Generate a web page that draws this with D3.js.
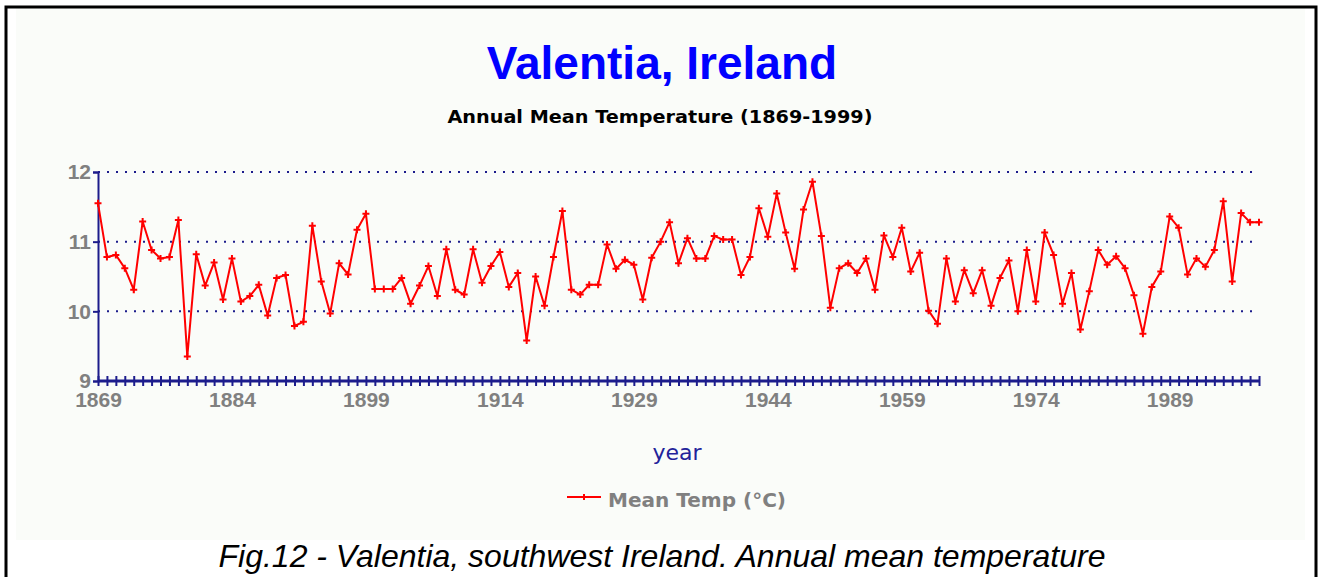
<!DOCTYPE html>
<html>

<head>
    <meta charset="utf-8">
    <script src="https://d3js.org/d3.v7.min.js"></script>
    <style>
        body { margin: 0; background: #ffffff; }
        text { font-family: "Liberation Sans", Arial, sans-serif; }
    </style>

    <script type="text/javascript">
        // anos e temperaturas
        let years = d3.range(1869, 2000);
        let meanTemp = [
            11.55, 10.78, 10.81, 10.62, 10.31, 11.29, 10.88, 10.76, 10.78, 11.31,
            9.35, 10.82, 10.37, 10.70, 10.17, 10.76, 10.14, 10.22, 10.38, 9.94,
            10.48, 10.52, 9.79, 9.85, 11.23, 10.43, 9.97, 10.69, 10.53, 11.17,
            11.40, 10.32, 10.32, 10.32, 10.48, 10.11, 10.37, 10.65, 10.22, 10.89,
            10.31, 10.24, 10.89, 10.41, 10.65, 10.85, 10.35, 10.55, 9.58, 10.50,
            10.08, 10.78, 11.44, 10.31, 10.24, 10.38, 10.38, 10.96, 10.61, 10.74,
            10.67, 10.17, 10.77, 11.00, 11.28, 10.69, 11.05, 10.76, 10.76, 11.08,
            11.03, 11.03, 10.52, 10.78, 11.48, 11.07, 11.69, 11.13, 10.61, 11.46,
            11.86, 11.08, 10.05, 10.62, 10.69, 10.55, 10.76, 10.31, 11.09, 10.78,
            11.20, 10.57, 10.84, 10.01, 9.82, 10.76, 10.14, 10.59, 10.26, 10.59,
            10.08, 10.48, 10.73, 10.00, 10.88, 10.14, 11.13, 10.81, 10.11, 10.55,
            9.74, 10.29, 10.88, 10.67, 10.79, 10.62, 10.23, 9.68, 10.35, 10.57,
            11.36, 11.20, 10.53, 10.76, 10.64, 10.88, 11.58, 10.43, 11.41, 11.28,
            11.28
        ];
        let yearLabels = [1869, 1884, 1899, 1914, 1929, 1944, 1959, 1974, 1989];
        let tempTicks = [9, 10, 11, 12];
        let gridValues = [10, 11, 12];

        function draw() {
            let width = 1318,
                height = 577;

            let navy = "#1c1c8c",
                grey = "#808080";

            let svg = d3.select("body")
                .append("svg")
                .attr("width", width)
                .attr("height", height);

            // fundo e moldura
            svg.append("rect")
                .attr("x", 16).attr("y", 8)
                .attr("width", 1289).attr("height", 532)
                .attr("fill", "#fafcf9");

            svg.append("path")
                .attr("d", "M6,577 V7 H1316 V577")
                .attr("fill", "none")
                .attr("stroke", "black")
                .attr("stroke-width", 3);

            let x = d3.scaleLinear()
                .domain([1869, 1999])
                .range([98, 1259]);

            let y = d3.scaleLinear()
                .domain([9, 12])
                .range([381, 172]);

            // titulos
            svg.append("text")
                .attr("x", 662).attr("y", 79)
                .attr("text-anchor", "middle")
                .attr("font-size", 46)
                .attr("font-weight", "bold")
                .attr("fill", "#0000ff")
                .text("Valentia, Ireland");

            svg.append("text")
                .attr("x", 660).attr("y", 123)
                .attr("text-anchor", "middle")
                .style("font-family", "'DejaVu Sans', sans-serif")
                .attr("font-size", 17)
                .attr("font-weight", "bold")
                .attr("fill", "black")
                .attr("textLength", 425)
                .attr("lengthAdjust", "spacingAndGlyphs")
                .text("Annual Mean Temperature (1869-1999)");

            // linhas de grade pontilhadas
            svg.append("g")
                .selectAll("line")
                .data(gridValues)
                .join("line")
                .attr("x1", x(1869)).attr("x2", 1255)
                .attr("y1", d => y(d)).attr("y2", d => y(d))
                .attr("stroke", navy)
                .attr("stroke-width", 2)
                .attr("stroke-dasharray", "2,7");

            // eixo y
            let yAxis = svg.append("g")
                .attr("transform", "translate(" + x(1869) + ",0)")
                .call(d3.axisLeft(y).tickValues(tempTicks).tickSize(5).tickPadding(2).tickFormat(d3.format("d")));
            yAxis.select(".domain").attr("stroke", navy).attr("stroke-width", 2);
            yAxis.selectAll(".tick line").attr("stroke", navy).attr("stroke-width", 2);
            yAxis.selectAll("text")
                .attr("font-size", 21)
                .attr("font-weight", "bold")
                .attr("fill", grey);

            // marcas de cada ano cruzando o eixo x
            let minor = svg.append("g")
                .attr("transform", "translate(0," + (y(9) - 5) + ")")
                .call(d3.axisBottom(x).tickValues(years).tickSize(10).tickFormat(""));
            minor.select(".domain").remove();
            minor.selectAll(".tick line").attr("stroke", navy).attr("stroke-width", 2);

            svg.append("line")
                .attr("x1", x(1869)).attr("x2", x(1999))
                .attr("y1", y(9)).attr("y2", y(9))
                .attr("stroke", navy)
                .attr("stroke-width", 3);

            let xAxis = svg.append("g")
                .attr("transform", "translate(0," + y(9) + ")")
                .call(d3.axisBottom(x).tickValues(yearLabels).tickSize(0).tickPadding(11).tickFormat(d3.format("d")));
            xAxis.select(".domain").remove();
            xAxis.selectAll("text")
                .attr("font-size", 21)
                .attr("font-weight", "bold")
                .attr("fill", grey);

            svg.append("text")
                .attr("x", 677).attr("y", 460)
                .attr("text-anchor", "middle")
                .style("font-family", "'DejaVu Sans', sans-serif")
                .attr("font-size", 22)
                .attr("fill", "#22229a")
                .text("year");

            // serie
            let data = years.map((d, i) => ({ year: d, temp: meanTemp[i] }));

            let line = d3.line()
                .x(d => x(d.year))
                .y(d => y(d.temp));

            svg.append("path")
                .attr("d", line(data))
                .attr("fill", "none")
                .attr("stroke", "#ff0000")
                .attr("stroke-width", 2);

            let cross = "M-3.5,0H3.5M0,-3.5V3.5";

            svg.append("g")
                .selectAll("path")
                .data(data)
                .join("path")
                .attr("transform", d => "translate(" + x(d.year) + "," + y(d.temp) + ")")
                .attr("d", cross)
                .attr("stroke", "#ff0000")
                .attr("stroke-width", 2);

            // legenda
            let legend = svg.append("g").attr("transform", "translate(567,497)");
            legend.append("line")
                .attr("x1", 0).attr("x2", 34)
                .attr("stroke", "#ff0000")
                .attr("stroke-width", 2);
            legend.append("path")
                .attr("transform", "translate(17,0)")
                .attr("d", "M0,-3V3")
                .attr("stroke", "#ff0000")
                .attr("stroke-width", 2);
            legend.append("text")
                .attr("x", 41).attr("y", 10)
                .style("font-family", "'DejaVu Sans', sans-serif")
                .attr("font-size", 19)
                .attr("font-weight", "bold")
                .attr("fill", grey)
                .attr("textLength", 178)
                .attr("lengthAdjust", "spacingAndGlyphs")
                .text("Mean Temp (\u00b0C)");

            // legenda da figura
            svg.append("text")
                .attr("x", 662).attr("y", 567)
                .attr("text-anchor", "middle")
                .attr("font-size", 32)
                .attr("font-style", "italic")
                .attr("fill", "black")
                .text("Fig.12 - Valentia, southwest Ireland. Annual mean temperature");
        };
    </script>
</head>

<body>
    <script type="text/javascript">
        draw();
    </script>
</body>

</html>
